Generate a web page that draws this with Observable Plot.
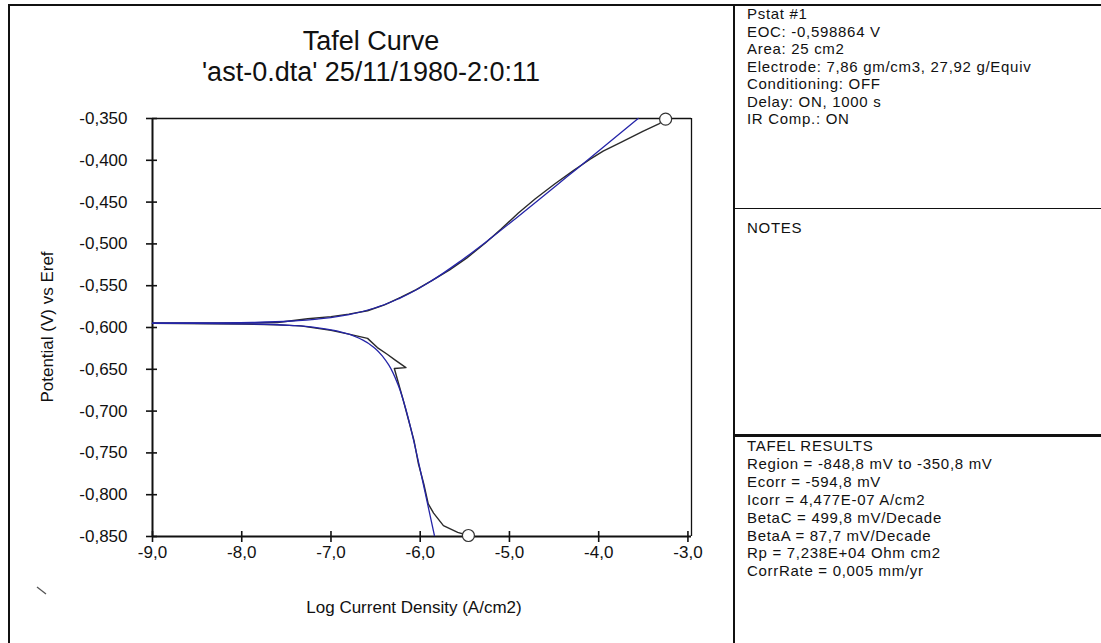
<!DOCTYPE html>
<html>
<head>
<meta charset="utf-8">
<script src="https://cdn.jsdelivr.net/npm/d3@7"></script>
<script src="https://cdn.jsdelivr.net/npm/@observablehq/plot@0.6"></script>
<style>
  html, body { margin: 0; padding: 0; background: #fff; }
  #page { position: relative; width: 1101px; height: 643px; overflow: hidden; background: #fff;
          font-family: "Liberation Sans", Arial, sans-serif; color: #111; }
  .abs { position: absolute; }
  .hline { position: absolute; background: #111; }
  .title { position: absolute; left: 0; width: 742px; text-align: center; font-size: 27px; line-height: 30px; }
  .info { position: absolute; left: 747px; font-size: 15px; letter-spacing: 0.7px; white-space: pre; }
  #chart { position: absolute; left: 0; top: 0; }
</style>
</head>
<body>
<div id="page">
  <div class="hline" style="left:8px; top:4px; width:1093px; height:1.5px;"></div>
  <div class="hline" style="left:8px; top:4px; width:1.5px; height:639px;"></div>
  <div class="hline" style="left:733px; top:4px; width:1.5px; height:639px;"></div>
  <div class="hline" style="left:733px; top:208px; width:368px; height:1px;"></div>
  <div class="hline" style="left:733px; top:434px; width:368px; height:2.5px;"></div>

  <div id="chart"></div>

  <div class="title" style="top:26px;">Tafel Curve</div>
  <div class="title" style="top:57px;">'ast-0.dta' 25/11/1980-2:0:11</div>

  <div class="abs" style="left:48px; top:327px; transform: translate(-50%,-50%) rotate(-90deg); font-size:17px; white-space:nowrap;">Potential (V) vs Eref</div>
  <div class="abs" style="left:414px; top:608px; transform: translate(-50%,-50%); font-size:17px; white-space:nowrap;">Log Current Density (A/cm2)</div>

  <svg class="abs" style="left:34px; top:584px;" width="16" height="14"><line x1="3" y1="3" x2="12" y2="10" stroke="#555" stroke-width="1.3"/></svg>

  <div id="info1" class="info" style="top:5px; line-height:17.5px;"></div>
  <div id="info2" class="info" style="top:219px; line-height:17.5px;"></div>
  <div id="info3" class="info" style="top:437px; line-height:17.9px;"></div>
</div>
<script>
// ---- data ----
// Measured (black) cathodic branch: log current density (A/cm2) and potential (V)
const measCathLogI = [-9.0, -8.0, -7.6, -7.34, -7.0, -6.8, -6.59, -6.48, -6.37, -6.28, -6.16, -6.29, -6.19, -6.13, -6.07, -6.02, -5.96, -5.91, -5.85, -5.74, -5.58, -5.46];
const measCathE    = [-0.5950, -0.5958, -0.5968, -0.598, -0.6035, -0.608, -0.613, -0.624, -0.632, -0.639, -0.648, -0.649, -0.687, -0.711, -0.735, -0.763, -0.787, -0.811, -0.822, -0.837, -0.845, -0.8488];
// Measured (black) anodic branch
const measAnodLogI = [-9.0, -8.0, -7.6, -7.26, -7.0, -6.8, -6.59, -6.4, -6.22, -6.05, -5.87, -5.67, -5.48, -5.27, -5.09, -4.90, -4.71, -4.49, -4.28, -4.10, -3.95, -3.74, -3.50, -3.32, -3.25];
const measAnodE    = [-0.5948, -0.5945, -0.594, -0.5895, -0.587, -0.584, -0.580, -0.573, -0.564, -0.555, -0.544, -0.531, -0.517, -0.499, -0.482, -0.463, -0.446, -0.428, -0.412, -0.399, -0.389, -0.378, -0.365, -0.356, -0.3508];
// Tafel fit (blue) cathodic branch
const fitCathLogI = [-9.0, -8.56, -7.863, -7.397, -7.184, -6.905, -6.647, -6.508, -6.419, -6.353, -6.244, -6.169, -6.108, -6.053, -5.950, -5.841];
const fitCathE    = [-0.5949, -0.5950, -0.5958, -0.5978, -0.5998, -0.6048, -0.6148, -0.6248, -0.6348, -0.6448, -0.6698, -0.6948, -0.7198, -0.7448, -0.7948, -0.8488];
// Tafel fit (blue) anodic branch
const fitAnodLogI = [-9.0, -8.56, -7.855, -7.368, -7.137, -6.811, -6.458, -6.226, -6.042, -5.883, -5.539, -5.229, -4.933, -4.643, -4.356, -4.069, -3.558];
const fitAnodE    = [-0.5947, -0.5946, -0.5938, -0.5918, -0.5898, -0.5848, -0.5748, -0.5648, -0.5548, -0.5448, -0.5198, -0.4948, -0.4698, -0.4448, -0.4198, -0.3948, -0.3500];
// Scan end points (open circles)
const endLogI = [-5.46, -3.25];
const endE    = [-0.8488, -0.3508];
// Axis ticks
const xTicks = [-9, -8, -7, -6, -5, -4, -3];
const yTicks = [-0.85, -0.80, -0.75, -0.70, -0.65, -0.60, -0.55, -0.50, -0.45, -0.40, -0.35];
const xDomain = [-9, -2.96];
const yDomain = [-0.85, -0.35];

// Text panels
const infoHeader = ["Pstat #1", "EOC: -0,598864 V", "Area: 25 cm2", "Electrode: 7,86 gm/cm3, 27,92 g/Equiv", "Conditioning: OFF", "Delay: ON, 1000 s", "IR Comp.: ON"];
const infoNotes = ["NOTES"];
const infoResults = ["TAFEL RESULTS", "Region = -848,8 mV to -350,8 mV", "Ecorr = -594,8 mV", "Icorr = 4,477E-07 A/cm2", "BetaC = 499,8 mV/Decade", "BetaA = 87,7 mV/Decade", "Rp = 7,238E+04 Ohm cm2", "CorrRate = 0,005 mm/yr"];

document.getElementById("info1").textContent = infoHeader.join("\n");
document.getElementById("info2").textContent = infoNotes.join("\n");
document.getElementById("info3").textContent = infoResults.join("\n");

const toRows = (xs, ys, series) => xs.map((x, i) => ({logI: x, E: ys[i], series}));
const measured = [...toRows(measCathLogI, measCathE, "cath"), ...toRows(measAnodLogI, measAnodE, "anod")];
const fitted = [...toRows(fitCathLogI, fitCathE, "cath"), ...toRows(fitAnodLogI, fitAnodE, "anod")];
const ends = toRows(endLogI, endE, "end");

const fmtX = d => d.toFixed(1).replace(".", ",");
const fmtY = d => d.toFixed(3).replace(".", ",");

const ink = "#111";
const chart = Plot.plot({
  width: 733,
  height: 643,
  marginLeft: 152,
  marginRight: 42,
  marginTop: 118,
  marginBottom: 107,
  style: {fontFamily: "'Liberation Sans', Arial, sans-serif", fontSize: "17px", color: ink, background: "transparent"},
  x: {domain: xDomain},
  y: {domain: yDomain},
  marks: [
    Plot.axisX({ticks: xTicks, tickFormat: fmtX, tickSize: 0, tickPadding: 9, label: null}),
    Plot.axisY({ticks: yTicks, tickFormat: fmtY, tickSize: 0, tickPadding: 25, label: null}),
    // frame
    Plot.ruleY([yDomain[1]], {stroke: ink, strokeWidth: 1.5}),
    Plot.ruleX([xDomain[1]], {stroke: ink, strokeWidth: 1.3}),
    Plot.ruleX([xDomain[0]], {stroke: ink, strokeWidth: 2}),
    Plot.ruleY([yDomain[0]], {stroke: ink, strokeWidth: 1.8}),
    // crossing tick marks
    Plot.ruleY(yTicks, {y: d => d, x1: xDomain[0], x2: xDomain[0], insetLeft: -6, insetRight: -5, stroke: ink, strokeWidth: 1.6}),
    Plot.ruleX(xTicks, {x: d => d, y1: yDomain[0], y2: yDomain[0], insetTop: -5, insetBottom: -6, stroke: ink, strokeWidth: 1.6}),
    // curves
    Plot.line(measured, {x: "logI", y: "E", z: "series", stroke: "#2a2a2a", strokeWidth: 1.4, curve: "linear"}),
    Plot.line(fitted, {x: "logI", y: "E", z: "series", stroke: "#2424a8", strokeWidth: 1.3, curve: "monotone-y"}),
    Plot.dot(ends, {x: "logI", y: "E", r: 6, fill: "#fff", stroke: "#333", strokeWidth: 1.2})
  ]
});
document.getElementById("chart").appendChild(chart);
</script>
</body>
</html>
